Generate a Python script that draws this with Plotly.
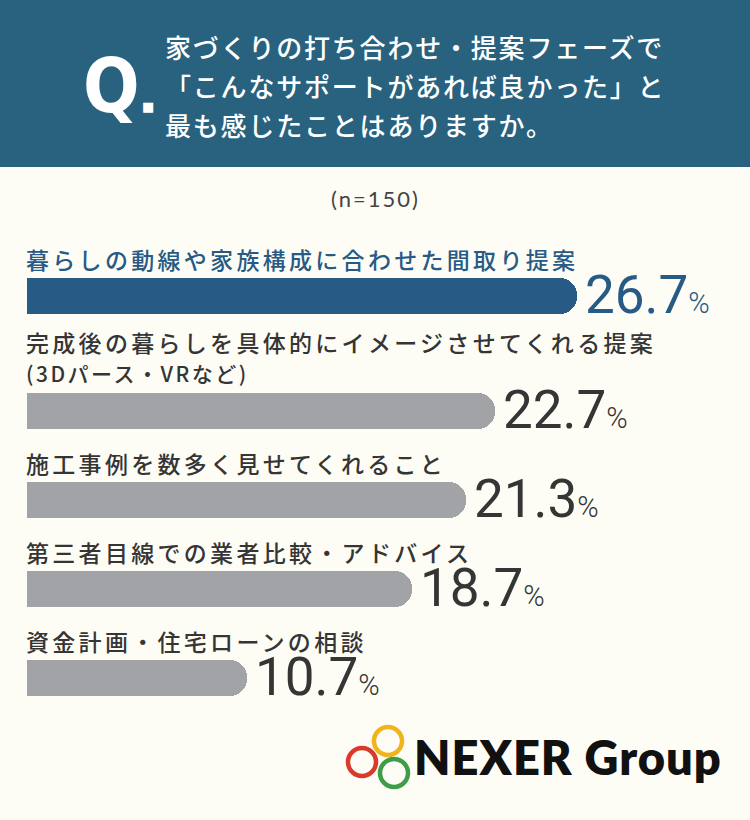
import plotly.graph_objects as go

# ---- data ----
categories = [
    ["暮らしの動線や家族構成に合わせた間取り提案"],
    ["完成後の暮らしを具体的にイメージさせてくれる提案", "(3Dパース・VRなど)"],
    ["施工事例を数多く見せてくれること"],
    ["第三者目線での業者比較・アドバイス"],
    ["資金計画・住宅ローンの相談"],
]
values = [26.7, 22.7, 21.3, 18.7, 10.7]
title_lines = [
    "家づくりの打ち合わせ・提案フェーズで",
    "「こんなサポートがあれば良かった」と",
    "最も感じたことはありますか。",
]
sample_note = "(n=150)"
brand = "NEXER Group"

# ---- style ----
W, H = 750, 820
BG = "#fdfdf6"
HEAD = "#28627f"
BLUE = "#275a85"
GRAY = "#a1a3a6"
DARK = "#353535"
JP = "Noto Sans CJK JP"
NUM = "Roboto"
px_per_unit = 20.6
left_px = 27

# row layout (pixel units on a 1:1 y axis)
first_bar = 296
row_step = 89
extra_line = 26
bar_y = []
y = first_bar
for i, c in enumerate(categories):
    if i > 0:
        y += row_step + extra_line * (len(c) - 1)
    bar_y.append(y)

colors = [BLUE] + [GRAY] * (len(values) - 1)
txtcolors = [BLUE] + [DARK] * (len(values) - 1)


def spaced(t, ls, size=None):
    st = f"letter-spacing:{ls}px"
    if size:
        st += f";font-size:{size}px"
    return f"<span style='{st}'>{t}</span>"


fig = go.Figure()
fig.add_trace(go.Bar(
    x=values, y=bar_y, orientation="h", width=36,
    marker=dict(color=colors, line=dict(width=0), cornerradius=17),
    hoverinfo="skip",
))

ann = []
# header text
for i, t in enumerate(title_lines):
    ann.append(dict(text=spaced(t, 1.8), xref="paper", yref="y", x=163 / W, y=46 + 39 * i,
                    xanchor="left", yanchor="middle", showarrow=False,
                    font=dict(family=JP, size=26, color="white", weight=500)))
ann.append(dict(text="Q", xref="paper", yref="y", x=81 / W, y=86,
                xanchor="left", yanchor="middle", showarrow=False,
                font=dict(family="Liberation Sans Narrow, DejaVu Sans Condensed, Roboto",
                          size=74, color="white", weight=700)))
ann.append(dict(text="■", xref="paper", yref="y", x=140 / W, y=106,
                xanchor="left", yanchor="middle", showarrow=False,
                font=dict(family="DejaVu Sans", size=13, color="white")))
ann.append(dict(text=spaced(sample_note, 2), xref="paper", yref="y", x=0.5, y=198,
                xanchor="center", yanchor="middle", showarrow=False,
                font=dict(family="Lato", size=22, color="#444444")))

for i, (c, v, by) in enumerate(zip(categories, values, bar_y)):
    parts = [spaced(c[0], 3.3)] + [spaced(s, 2.5, 21) for s in c[1:]]
    n = len(c)
    ly = by - 37 - (18 if n > 1 else 0)
    ann.append(dict(text="<br>".join(parts), xref="x", yref="y", x=0, y=ly,
                    xanchor="left", yanchor="middle", align="left", showarrow=False,
                    xshift=-3,
                    font=dict(family=JP, size=23, color=txtcolors[i], weight=500)))
    ann.append(dict(
        text=f"{v:.1f}<span style='font-size:29px;font-weight:300'>%</span>",
        xref="x", yref="y", x=v, y=by - 1, xanchor="left", yanchor="middle",
        xshift=6, showarrow=False,
        font=dict(family=NUM, size=53, color=txtcolors[i], weight=400)))

# brand
ann.append(dict(text=spaced(brand, 1), xref="paper", yref="y", x=412 / W, y=757,
                xanchor="left", yanchor="middle", showarrow=False,
                font=dict(family="Lato", size=47, color="#111111", weight=800)))

shapes = [dict(type="rect", xref="paper", yref="y", x0=0, x1=1, y0=0, y1=167,
               fillcolor=HEAD, line=dict(width=0), layer="below")]
for cx, cy, col in [(388, 741, "#f0b51d"), (362, 762, "#d93a2c"), (394, 773, "#3d9d48")]:
    r = 14
    shapes.append(dict(type="circle", xref="paper", yref="y",
                       x0=(cx - r) / W, x1=(cx + r) / W, y0=cy - r, y1=cy + r,
                       line=dict(color=col, width=4.5)))

x_lo = -left_px / px_per_unit
x_hi = (W - left_px) / px_per_unit
fig.update_layout(
    width=W, height=H, margin=dict(l=0, r=0, t=0, b=0),
    paper_bgcolor=BG, plot_bgcolor=BG, showlegend=False,
    xaxis=dict(range=[x_lo, x_hi], visible=False, fixedrange=True),
    yaxis=dict(range=[H, 0], visible=False, fixedrange=True),
    annotations=ann, shapes=shapes, bargap=0,
)
fig.write_html("out.html")
